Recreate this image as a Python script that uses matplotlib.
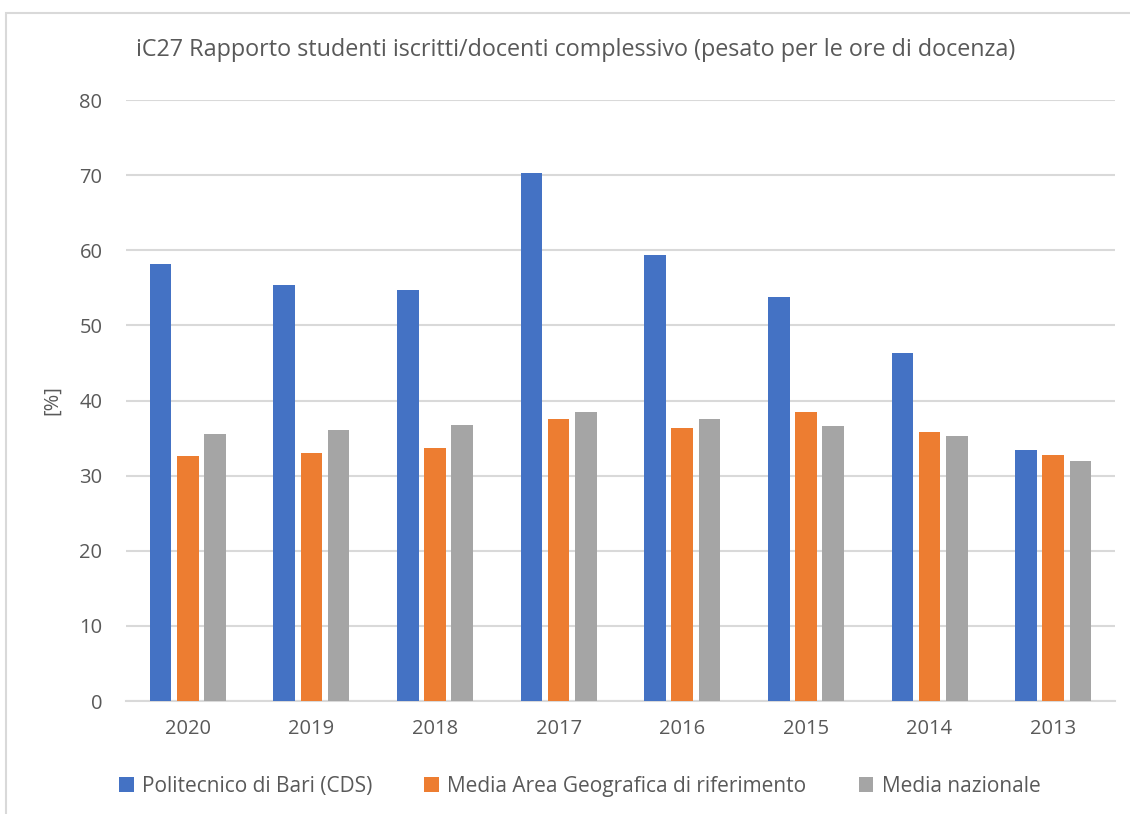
import numpy as np
import matplotlib.pyplot as plt
from matplotlib.patches import Rectangle

plt.rcParams['font.family'] = ['Open Sans', 'DejaVu Sans']

years = ["2020", "2019", "2018", "2017", "2016", "2015", "2014", "2013"]
politecnico = [58.2, 55.4, 54.7, 70.3, 59.4, 53.8, 46.3, 33.4]
media_area = [32.6, 33.0, 33.7, 37.5, 36.3, 38.5, 35.8, 32.7]
media_naz = [35.5, 36.1, 36.7, 38.5, 37.5, 36.6, 35.3, 31.9]

series = [
    ("Politecnico di Bari (CDS)", politecnico, "#4472c4"),
    ("Media Area Geografica di riferimento", media_area, "#ed7d31"),
    ("Media nazionale", media_naz, "#a5a5a5"),
]

text_color = "#595959"
grid_color = "#d9d9d9"

fig = plt.figure(figsize=(11.3, 8.14), dpi=100)
ax = fig.add_axes([0.1115, 0.1388, 0.8752, 0.7383])

# outer chart border
fig.patches.append(Rectangle((0.005, -0.1), 1.2, 1.084, transform=fig.transFigure,
                             fill=False, edgecolor=grid_color, linewidth=1.5))

x = np.arange(len(years))
step = 0.22
width = 0.175
for i, (name, vals, color) in enumerate(series):
    ax.bar(x + (i - 1) * step, vals, width, color=color, label=name, zorder=3)

ax.set_xlim(-0.5, len(years) - 0.5)
ax.set_ylim(0, 80)
ax.set_yticks(range(0, 81, 10))
ax.set_xticks(x)
ax.set_xticklabels(years)
ax.tick_params(axis="both", length=0, colors=text_color, labelsize=14.5)
ax.tick_params(axis="x", pad=13)
ax.tick_params(axis="y", pad=17)
ax.grid(axis="y", color=grid_color, linewidth=1.5, zorder=0)
for s in ["top", "right", "left"]:
    ax.spines[s].set_visible(False)
ax.spines["bottom"].set_color(grid_color)
ax.spines["bottom"].set_linewidth(1.5)

ax.set_ylabel("[%]", color=text_color, fontsize=14.5, labelpad=12)
fig.text(0.509, 0.938, "iC27 Rapporto studenti iscritti/docenti complessivo (pesato per le ore di docenza)",
         ha="center", va="center", fontsize=16.8, color=text_color)

fig.legend(loc="center", bbox_to_anchor=(0.513, 0.034), ncol=3, frameon=False,
           fontsize=15, handlelength=0.7, handleheight=0.7, handletextpad=0.4,
           columnspacing=2.5, labelcolor=text_color)

fig.savefig("out.png", dpi=100)
